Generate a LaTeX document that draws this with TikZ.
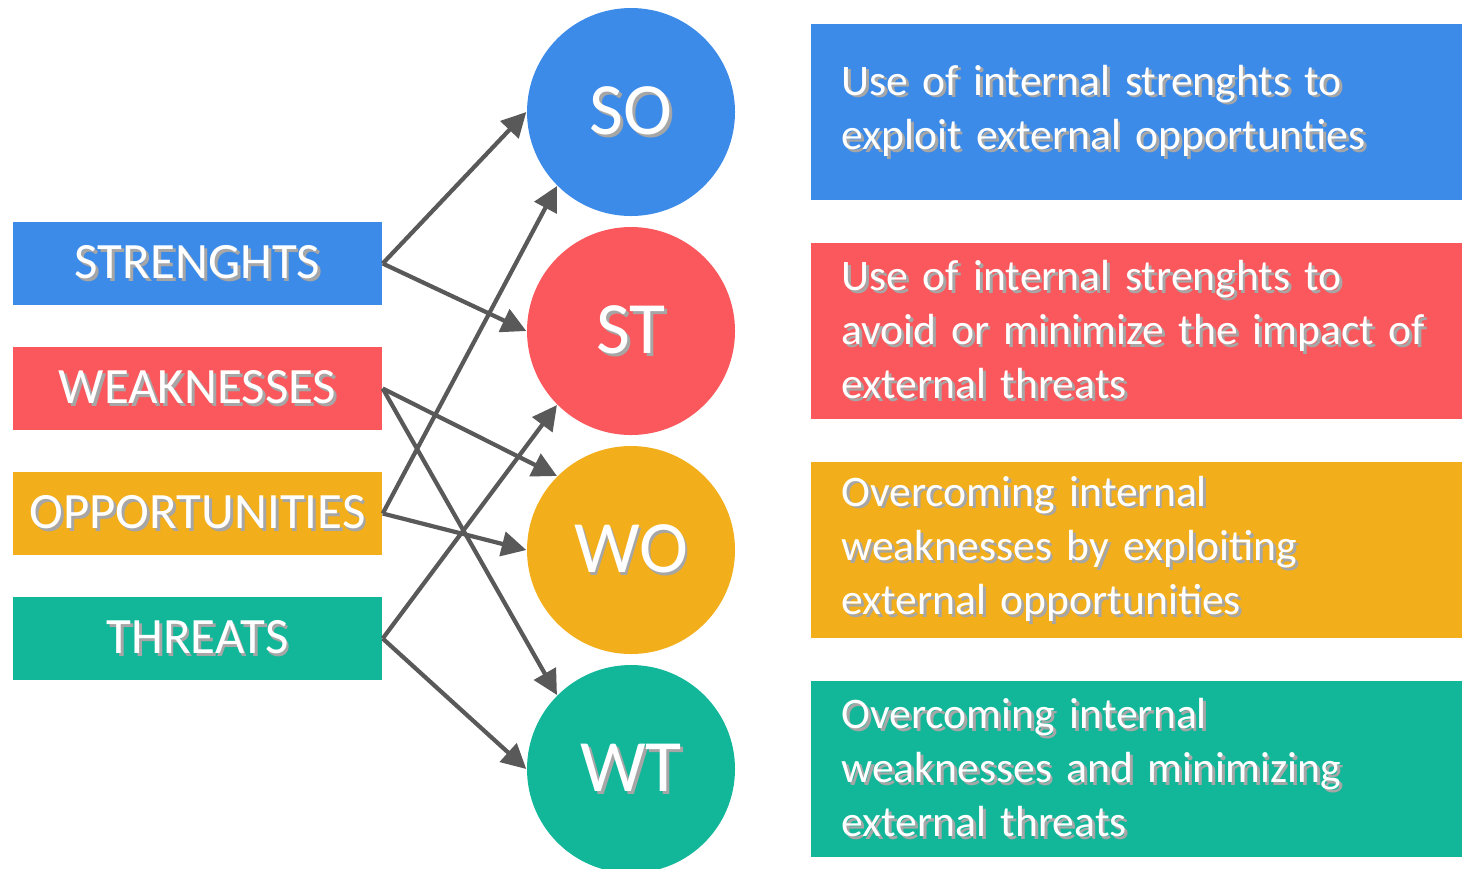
\documentclass[tikz,border=0pt]{standalone}
\usepackage{fontspec}
\setmainfont{Carlito}
\usetikzlibrary{arrows.meta,positioning}
\definecolor{swotblue}{HTML}{3D8BE8}
\definecolor{swotred}{HTML}{FA585C}
\definecolor{swotyellow}{HTML}{F2AE1B}
\definecolor{swotgreen}{HTML}{12B79A}
\definecolor{arrowgray}{HTML}{595959}
\newcommand\shadowed[1]{\leavevmode\rlap{\kern0.8pt\raisebox{-0.8pt}{\textcolor{black!35}{#1}}}#1}
\tikzset{>={Triangle[length=7pt,width=7pt]},
  factor/.style={fill=#1, text=white, minimum width=3.69cm, minimum height=0.83cm,
    inner sep=0pt, font=\fontsize{14.5}{17}\selectfont},
  strategy/.style={circle, fill=#1, text=white, minimum size=2.08cm, inner sep=0pt,
    font=\fontsize{21}{25}\selectfont},
  remark/.style={fill=#1, text=white, text width=6.1cm, align=left,
    minimum height=1.76cm, inner xsep=0.3cm, font=\fontsize{12.4}{15.4}\selectfont},
  link/.style={->, draw=arrowgray, line width=1.2pt}}

\begin{document}
\begin{tikzpicture}[node distance=1.25cm]
    \useasboundingbox (0,0) rectangle (14.62,-8.68);

    % factors
    \node[factor=swotblue] (str) at (1.975,-2.635) {\shadowed{STRENGHTS}};
    \node[factor=swotred] (wea) [below of=str] {\shadowed{WEAKNESSES}};
    \node[factor=swotyellow] (opp) [below of=wea] {\shadowed{OPPORTUNITIES}};
    \node[factor=swotgreen] (thr) [below of=opp] {\shadowed{THREATS}};

    % strategies
    \node[strategy=swotblue] (so) at (6.31,-1.12) {\shadowed{SO}};
    \node[strategy=swotred] (st) [below of=so, node distance=2.19cm] {\shadowed{ST}};
    \node[strategy=swotyellow] (wo) [below of=st, node distance=2.19cm] {\shadowed{WO}};
    \node[strategy=swotgreen] (wt) [below of=wo, node distance=2.19cm] {\shadowed{WT}};

    \node[remark=swotblue, right=0.75cm of so] (so-txt)
        {\shadowed{Use of internal strenghts to}\\
         \shadowed{exploit external opportunties}};
    \node[remark=swotred, right=0.75cm of st] (st-txt)
        {\shadowed{Use of internal strenghts to}\\
         \shadowed{avoid or minimize the impact of}\\
         \shadowed{external threats}};
    \node[remark=swotyellow, right=0.75cm of wo] (wo-txt)
        {\shadowed{Overcoming internal}\\
         \shadowed{weaknesses by exploiting}\\
         \shadowed{external opportunities}};
    \node[remark=swotgreen, right=0.75cm of wt] (wt-txt)
        {\shadowed{Overcoming internal}\\
         \shadowed{weaknesses and minimizing}\\
         \shadowed{external threats}};

    \path (str.east) edge[link] (so.west);
    \path (str.east) edge[link] (st.west);
    \path (wea.east) edge[link] (wo.north west);
    \path (wea.east) edge[link] (wt.north west);
    \path (opp.east) edge[link] (so.south west);
    \path (opp.east) edge[link] (wo.west);
    \path (thr.east) edge[link] (st.south west);
    \path (thr.east) edge[link] (wt.west);
  \end{tikzpicture}
\end{document}
